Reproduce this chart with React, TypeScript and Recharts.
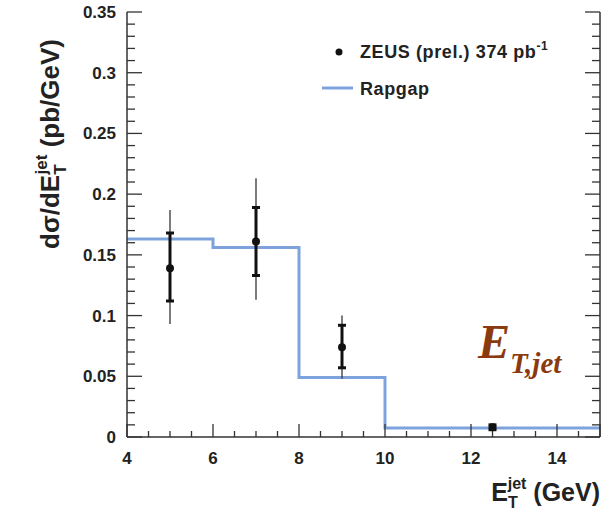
import {
  ComposedChart,
  Line,
  Scatter,
  ErrorBar,
  XAxis,
  YAxis,
} from "recharts";

// bin edges and Rapgap prediction (last value repeated to close the step)
const binEdges = [4, 6, 8, 10, 15];
const rapgapValues = [0.163, 0.156, 0.049, 0.0074, 0.0074];

// ZEUS preliminary points
const zeusX = [5, 7, 9, 12.5];
const zeusY = [0.139, 0.161, 0.074, 0.008];
const zeusStat: [number, number][] = [
  [0.027, 0.029],
  [0.028, 0.028],
  [0.017, 0.018],
  [0.002, 0.002],
];
const zeusTotal: [number, number][] = [
  [0.046, 0.048],
  [0.048, 0.052],
  [0.026, 0.026],
  [0.003, 0.003],
];

const xMajorTicks = [4, 6, 8, 10, 12, 14];
const yMajorTicks = [0, 0.05, 0.1, 0.15, 0.2, 0.25, 0.3, 0.35];

const xAllTicks = Array.from({ length: 23 }, (_, i) => 4 + i * 0.5);
const yAllTicks = Array.from({ length: 36 }, (_, i) => i / 100);

const rapgapData = binEdges.map((x, i) => ({ x, y: rapgapValues[i] }));
const zeusData = zeusX.map((x, i) => ({
  x,
  y: zeusY[i],
  stat: zeusStat[i],
  tot: zeusTotal[i],
}));

const BLUE = "#7ea3dc";
const AXIS = "#333";
const FONT = "'Liberation Sans', Arial, Helvetica, sans-serif";

const isMajorY = (v: number) => yMajorTicks.some((t) => Math.abs(t - v) < 1e-6);
const isMajorX = (v: number) => xMajorTicks.includes(v) || v === 15;

const LeftTick = (props: any) => {
  const { x, y, payload } = props;
  const major = isMajorY(payload.value);
  return (
    <g>
      <line x1={x} x2={x + (major ? 15 : 8)} y1={y} y2={y} stroke={AXIS} strokeWidth={1.3} />
      {major && (
        <text x={x - 11} y={y + 6} textAnchor="end" fontFamily={FONT} fontWeight="bold" fontSize={17} fill="#222">
          {String(payload.value)}
        </text>
      )}
    </g>
  );
};

const RightTick = (props: any) => {
  const { x, y, payload } = props;
  const major = isMajorY(payload.value);
  return <line x1={x} x2={x - (major ? 15 : 8)} y1={y} y2={y} stroke={AXIS} strokeWidth={1.3} />;
};

const BottomTick = (props: any) => {
  const { x, y, payload } = props;
  const major = isMajorX(payload.value);
  return (
    <g>
      <line x1={x} x2={x} y1={y} y2={y - (major ? 13 : 6)} stroke={AXIS} strokeWidth={1.3} />
      {major && payload.value < 15 && (
        <text x={x} y={y + 27} textAnchor="middle" fontFamily={FONT} fontWeight="bold" fontSize={17} fill="#222">
          {String(payload.value)}
        </text>
      )}
    </g>
  );
};

const TopTick = (props: any) => {
  const { x, y, payload } = props;
  const major = isMajorX(payload.value);
  return <line x1={x} x2={x} y1={y} y2={y + (major ? 13 : 6)} stroke={AXIS} strokeWidth={1.3} />;
};

const Dot = (props: any) => <circle cx={props.cx} cy={props.cy} r={4} fill="#111" />;

export default function App() {
  return (
    <div style={{ position: "absolute", left: 0, top: 0, width: 616, height: 511, background: "#fff" }}>
      <ComposedChart
        width={616}
        height={511}
        margin={{ top: 12, right: 0, bottom: 44, left: 67 }}
      >
        <XAxis
          xAxisId="b"
          type="number"
          dataKey="x"
          domain={[4, 15]}
          ticks={xAllTicks}
          interval={0}
          allowDataOverflow
          height={30}
          tickLine={false}
          tickSize={0}
          tickMargin={0}
          tick={<BottomTick />}
          axisLine={{ stroke: AXIS, strokeWidth: 1.5 }}
        />
        <XAxis
          xAxisId="t"
          orientation="top"
          type="number"
          dataKey="x"
          domain={[4, 15]}
          ticks={xAllTicks}
          interval={0}
          allowDataOverflow
          height={0}
          tickLine={false}
          tickSize={0}
          tickMargin={0}
          tick={<TopTick />}
          axisLine={{ stroke: AXIS, strokeWidth: 1.5 }}
        />
        <YAxis
          yAxisId="l"
          type="number"
          domain={[0, 0.35]}
          ticks={yAllTicks}
          interval={0}
          allowDataOverflow
          width={60}
          tickLine={false}
          tickSize={0}
          tickMargin={0}
          tick={<LeftTick />}
          axisLine={{ stroke: AXIS, strokeWidth: 1.5 }}
        />
        <YAxis
          yAxisId="r"
          orientation="right"
          type="number"
          domain={[0, 0.35]}
          ticks={yAllTicks}
          interval={0}
          allowDataOverflow
          width={16}
          tickLine={false}
          tickSize={0}
          tickMargin={0}
          tick={<RightTick />}
          axisLine={{ stroke: AXIS, strokeWidth: 1.5 }}
        />
        <Line
          xAxisId="b"
          yAxisId="l"
          data={rapgapData}
          dataKey="y"
          type="stepAfter"
          stroke={BLUE}
          strokeWidth={3}
          dot={false}
          isAnimationActive={false}
        />
        <Scatter
          xAxisId="b"
          yAxisId="l"
          data={zeusData}
          dataKey="y"
          shape={<Dot />}
          isAnimationActive={false}
        >
          <ErrorBar dataKey="tot" direction="y" width={0} stroke="#444" strokeWidth={1.4} isAnimationActive={false} />
          <ErrorBar dataKey="stat" direction="y" width={4} stroke="#111" strokeWidth={3} isAnimationActive={false} />
        </Scatter>
      </ComposedChart>
      <svg
        width={616}
        height={511}
        style={{ position: "absolute", left: 0, top: 0, pointerEvents: "none" }}
      >
        {/* y axis title */}
        <text
          transform="translate(59,144) rotate(-90)"
          textAnchor="middle"
          fontFamily={FONT}
          fontWeight="bold"
          fontSize={26}
          fill="#222"
        >
          dσ/dE
          <tspan fontSize={17} dy={7}>T</tspan>
          <tspan fontSize={17} dx={-10} dy={-19}>jet</tspan>
          <tspan dy={12}> (pb/GeV)</tspan>
        </text>
        {/* x axis title */}
        <text x={600} y={501} textAnchor="end" fontFamily={FONT} fontWeight="bold" fontSize={25} fill="#222">
          E
          <tspan fontSize={16} dy={7}>T</tspan>
          <tspan fontSize={16} dx={-10} dy={-19}>jet</tspan>
          <tspan dy={12}> (GeV)</tspan>
        </text>
        {/* legend */}
        <circle cx={339} cy={52} r={3.5} fill="#111" />
        <text x={360} y={58} fontFamily={FONT} fontWeight="bold" fontSize={18} fill="#222" letterSpacing={0.6}>
          ZEUS (prel.) 374 pb
          <tspan fontSize={12} dy={-8}>-1</tspan>
        </text>
        <line x1={322} x2={353} y1={88} y2={88} stroke={BLUE} strokeWidth={3} />
        <text x={360} y={95} fontFamily={FONT} fontWeight="bold" fontSize={18} fill="#222" letterSpacing={0.6}>
          Rapgap
        </text>
        {/* annotation */}
        <text
          x={478}
          y={358}
          fontFamily="'Liberation Serif', 'Times New Roman', serif"
          fontWeight="bold"
          fontStyle="italic"
          fontSize={48}
          fill="#8b3a10"
        >
          E
          <tspan fontSize={29} dy={15}>T,jet</tspan>
        </text>
      </svg>
    </div>
  );
}
